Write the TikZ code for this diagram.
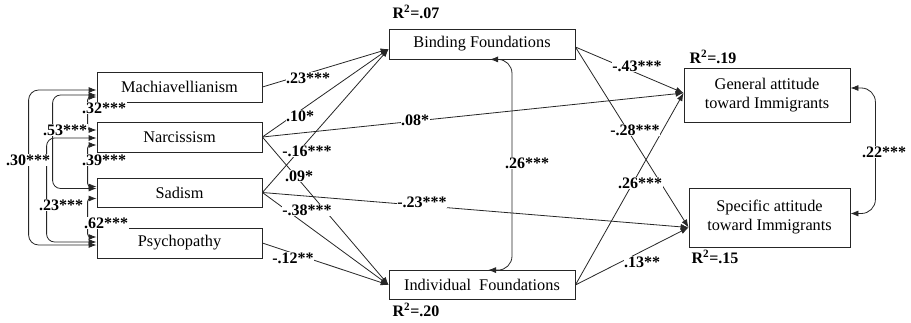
\documentclass[tikz,border=0pt]{standalone}
\usepackage{fontspec}
\setmainfont{Liberation Serif}
\usetikzlibrary{arrows.meta}
\begin{document}
\begin{tikzpicture}[x=1pt,y=-1pt,
 box/.style={draw=black!85,line width=0.8pt,minimum width=165pt,minimum height=30pt,inner sep=0pt,font=\fontsize{16.3}{19}\selectfont,align=center},
 lab/.style={font=\fontsize{16}{18}\selectfont\bfseries,fill=white,inner sep=0.5pt},
 rsq/.style={font=\fontsize{16}{18}\selectfont\bfseries,inner sep=0pt},
 arr/.style={draw=black!85,line width=0.8pt,-{Latex[length=8pt,width=6pt]}},
 dbl/.style={draw=black!85,line width=0.8pt,{Latex[length=8pt,width=6pt]}-{Latex[length=8pt,width=6pt]}},
]
\useasboundingbox (0,0) rectangle (911,322);
% boxes
\node[box] (mach) at (179.5,87) {Machiavellianism};
\node[box] (narc) at (179.5,137) {Narcissism};
\node[box,minimum height=29pt] (sad) at (179.5,192.5) {Sadism};
\node[box] (psy) at (179.5,243) {Psychopathy};
\node[box,minimum width=186pt] (bind) at (482,44) {Binding Foundations};
\node[box,minimum width=186pt,minimum height=29pt] (ind) at (482,285) {Individual\hspace{4pt} Foundations};
\node[box,minimum width=166pt,minimum height=54pt] (gen) at (767,95) {General attitude\\toward Immigrants};
\node[box,minimum width=161pt,minimum height=59pt] (spec) at (769.5,217.5) {Specific attitude\\toward Immigrants};
% correlations among dark traits
\draw[dbl,rounded corners=10pt] ([yshift=-3pt]mach.west) -- ++(-68pt,0) |- ([yshift=-2pt]psy.west);
\draw[dbl,rounded corners=8pt] ([yshift=-8pt]mach.west) -- ++(-44pt,0) |- ([yshift=4pt]sad.west);
\draw[dbl,rounded corners=8pt] ([yshift=-1pt]narc.west) -- ++(-50pt,0) |- ([yshift=1pt]psy.west);
\draw[dbl,rounded corners=3pt] ([yshift=-10pt]mach.west) -- ++(-9pt,0) |- ([yshift=7pt]narc.west);
\draw[dbl,rounded corners=3pt] ([yshift=-8pt]narc.west) -- ++(-9pt,0) |- ([yshift=6pt]sad.west);
\draw[dbl,rounded corners=3pt] ([yshift=-6pt]sad.west) -- ++(-9pt,0) |- ([yshift=6pt]psy.west);
% paths to foundations
\draw[arr] (mach.east) -- ([yshift=-5pt]bind.west);
\draw[arr] (narc.east) -- ([yshift=-5pt]bind.west);
\draw[arr] (sad.east) -- ([yshift=-5pt]bind.west);
\draw[arr] (narc.east) -- ([yshift=2pt]gen.west);
\draw[arr] (narc.east) -- (ind.west);
\draw[arr] (sad.east) -- (ind.west);
\draw[arr] (sad.east) -- ([yshift=-10pt]spec.west);
\draw[arr] (psy.east) -- (ind.west);
% foundations to attitudes
\draw[arr] ([yshift=-3pt]bind.east) -- ([yshift=2pt]gen.west);
\draw[arr] ([yshift=-3pt]bind.east) -- ([yshift=-10pt]spec.west);
\draw[arr] (ind.east) -- ([yshift=2pt]gen.west);
\draw[arr] (ind.east) -- ([yshift=-10pt]spec.west);
% residual correlations
\draw[dbl,rounded corners=14pt] ([xshift=8pt]bind.south) -- ++(22pt,0) |- ([xshift=6pt]ind.north);
\draw[dbl,rounded corners=14pt] ([yshift=7pt]gen.east) -- ++(25pt,0) |- ([yshift=4pt]spec.east);
% labels
\node[lab] (l1) at (308,78) {.23***};
\node[lab] (l2) at (300,116) {.10*};
\node[lab] (l3) at (415,120) {.08*};
\node[lab] (l4) at (307,151) {-.16***};
\node[lab] (l5) at (299,176) {.09*};
\node[lab] (l6) at (307,210) {-.38***};
\node[lab] (l7) at (422,202) {-.23***};
\node[lab] (l8) at (293,258) {-.12**};
\node[lab] (l9) at (527,163) {.26***};
\node[lab] (l10) at (637,66) {-.43***};
\node[lab] (l11) at (635,130) {-.28***};
\node[lab] (l12) at (640,183) {.26***};
\node[lab] (l13) at (642,262) {.13**};
\node[lab] (l14) at (884,152) {.22***};
\node[lab] (c1) at (104,108) {.32***};
\node[lab] (c2) at (65,130) {.53***};
\node[lab] (c3) at (28,160) {.30***};
\node[lab] (c4) at (104,160) {.39***};
\node[lab] (c5) at (61,205) {.23***};
\node[lab] (c6) at (106,223) {.62***};
\node[rsq] (r1) at (416,12) {R\textsuperscript{2}=.07};
\node[rsq] (r2) at (713,57) {R\textsuperscript{2}=.19};
\node[rsq] (r3) at (715,257) {R\textsuperscript{2}=.15};
\node[rsq] (r4) at (416,310) {R\textsuperscript{2}=.20};
\end{tikzpicture}
\end{document}
